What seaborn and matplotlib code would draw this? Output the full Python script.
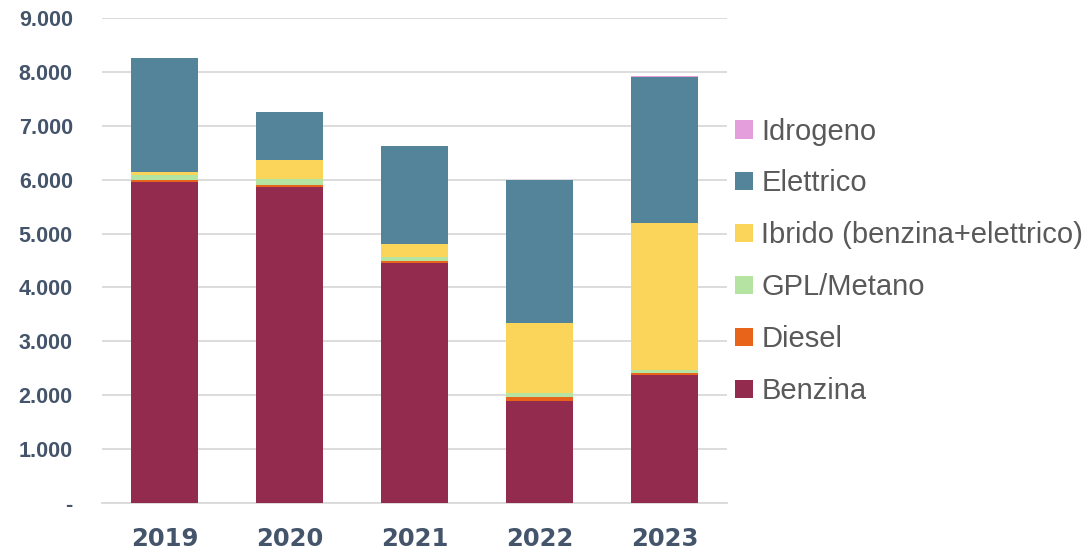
import matplotlib
matplotlib.use("Agg")
import matplotlib.pyplot as plt
import seaborn as sns
import numpy as np
import pandas as pd
from matplotlib.patches import Patch
from matplotlib.ticker import FuncFormatter

years = ["2019", "2020", "2021", "2022", "2023"]
benzina = [5950, 5857, 4450, 1894, 2376]
diesel = [50, 37, 37, 75, 44]
gpl_metano = [87, 112, 74, 68, 49]
ibrido = [61, 358, 248, 1296, 2735]
elettrico = [2100, 895, 1821, 2654, 2703]
idrogeno = [0, 0, 0, 10, 15]

series_names = ["Benzina", "Diesel", "GPL/Metano", "Ibrido (benzina+elettrico)", "Elettrico", "Idrogeno"]
series_vals = [benzina, diesel, gpl_metano, ibrido, elettrico, idrogeno]
colors = ["#922B4E", "#E8641B", "#B5E3A1", "#FBD45A", "#54849A", "#E49EDB"]

sns.set_theme(style="white")
plt.rcParams['font.family'] = ['Liberation Sans', 'DejaVu Sans']

fig = plt.figure(figsize=(10.89, 5.49), dpi=100)
ax = fig.add_axes([0.0937, 0.0838, 0.574, 0.8835])

bottom = np.zeros(len(years))
for name, vals, col in zip(series_names, series_vals, colors):
    df = pd.DataFrame({"year": years, "value": vals})
    sns.barplot(data=df, x="year", y="value", order=years, color=col,
                bottom=bottom, width=0.54, ax=ax, saturation=1,
                edgecolor="none", linewidth=0, zorder=3)
    bottom = bottom + np.array(vals)

ax.set_xlim(-0.5, 4.5)
ax.set_ylim(0, 9000)
ax.set_yticks(np.arange(0, 9001, 1000))
ax.yaxis.set_major_formatter(FuncFormatter(lambda v, p: "-" if v == 0 else f"{int(v):,}".replace(",", ".")))
ax.grid(axis="y", color="#D9D9D9", linewidth=1.3, zorder=0)
ax.set_axisbelow(True)
for s in ["top", "right", "left"]:
    ax.spines[s].set_visible(False)
ax.spines["bottom"].set_color("#D9D9D9")
ax.spines["bottom"].set_linewidth(1.3)
ax.set_xlabel("")
ax.set_ylabel("")
ax.tick_params(axis="y", length=0, pad=21, labelsize=15.5, labelcolor="#44546A")
ax.tick_params(axis="x", length=0, pad=17, labelsize=17.5, labelcolor="#44546A")
for lbl in ax.get_yticklabels():
    lbl.set_fontweight("bold")
for lbl in ax.get_xticklabels():
    lbl.set_fontweight("bold")
    lbl.set_family(["DejaVu Sans"])

handles = [Patch(facecolor=c, edgecolor="none") for c in colors][::-1]
labels = series_names[::-1]
fig.legend(handles, labels, loc="center left", bbox_to_anchor=(0.675, 0.524),
           frameon=False, fontsize=21, labelcolor="#595959",
           handlelength=0.6, handleheight=0.6, handletextpad=0.3,
           labelspacing=0.82, borderaxespad=0, borderpad=0)

fig.savefig("out.png", dpi=100)
